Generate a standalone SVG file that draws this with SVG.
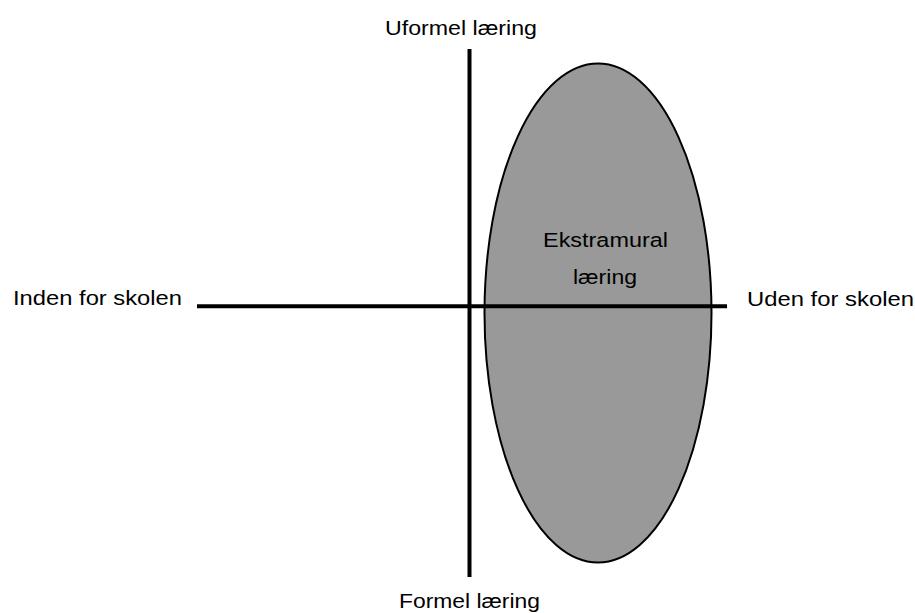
<svg xmlns="http://www.w3.org/2000/svg" width="915" height="613" viewBox="0 0 915 613">
<style>
.t{font-family:"Liberation Sans",Arial,sans-serif;font-size:20.5px;fill:#000}
.ax{stroke:#000;stroke-width:4;fill:none}
</style>
<rect width="915" height="613" fill="#fff"/>
<g id="ekstramural">
<ellipse cx="598" cy="313" rx="113.5" ry="249.5" fill="#999999" stroke="#000" stroke-width="2"/>
<text class="t" x="543" y="247" textLength="125" lengthAdjust="spacingAndGlyphs">Ekstramural</text>
<text class="t" x="573" y="284" textLength="64" lengthAdjust="spacingAndGlyphs">læring</text>
</g>
<g id="axes">
<line class="ax" x1="469.5" y1="49" x2="469.5" y2="577"/>
<line class="ax" x1="197" y1="306.3" x2="727" y2="306.3"/>
</g>
<g id="label-top"><text class="t" x="385" y="34.5" textLength="152" lengthAdjust="spacingAndGlyphs">Uformel læring</text></g>
<g id="label-bottom"><text class="t" x="399" y="608" textLength="141" lengthAdjust="spacingAndGlyphs">Formel læring</text></g>
<g id="label-left"><text class="t" x="13" y="305" textLength="169" lengthAdjust="spacingAndGlyphs">Inden for skolen</text></g>
<g id="label-right"><text class="t" x="747" y="306" textLength="167" lengthAdjust="spacingAndGlyphs">Uden for skolen</text></g>
</svg>
